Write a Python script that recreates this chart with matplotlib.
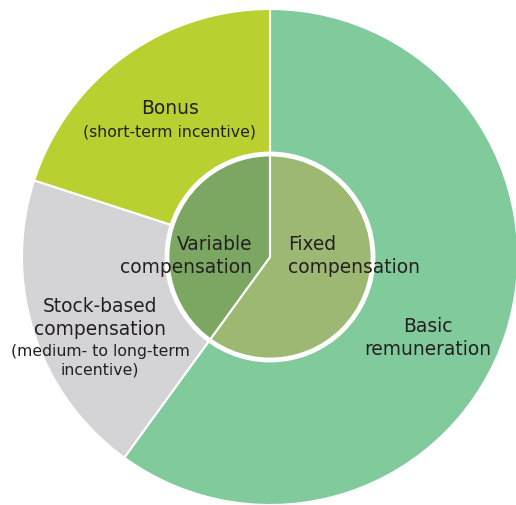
import matplotlib
matplotlib.use("Agg")
import matplotlib.pyplot as plt

# outer ring: breakdown of compensation (clockwise from 12 o'clock)
outer_labels = ["Basic\nremuneration", "Stock-based\ncompensation", "Bonus"]
outer_values = [60, 20, 20]
outer_colors = ["#80ca9c", "#d4d4d6", "#b9d030"]

# inner pie: fixed vs variable
inner_labels = ["Fixed\ncompensation", "Variable\ncompensation"]
inner_values = [60, 40]
inner_colors = ["#9cb873", "#7ba762"]

TXT = "#231f20"
W, H = 516, 506
CX, CY = 270, H - 258
R_OUT, R_IN = 248, 103

fig = plt.figure(figsize=(W / 100, H / 100), dpi=100)
ax = fig.add_axes([0, 0, 1, 1])

ax.pie(outer_values, colors=outer_colors, startangle=90, counterclock=False,
       radius=R_OUT, center=(CX, CY),
       wedgeprops=dict(edgecolor="white", linewidth=1.5))
ax.pie(inner_values, colors=inner_colors, startangle=90, counterclock=False,
       radius=R_IN, center=(CX, CY),
       wedgeprops=dict(edgecolor="white", linewidth=1.5))
# white ring around the inner pie
circ = plt.Circle((CX, CY), R_IN, fill=False, edgecolor="white", linewidth=3.5)
ax.add_patch(circ)

ax.set_xlim(0, W)
ax.set_ylim(0, H)
ax.set_aspect("equal")
ax.axis("off")

big, small = 13.4, 11.3
def lab(x, y, s, size=big, ha="center"):
    ax.text(x, H - y, s, fontsize=size, color=TXT, ha=ha, va="center",
            linespacing=1.3, family="DejaVu Sans")

# outer labels
lab(428, 338, outer_labels[0])
lab(100, 318, outer_labels[1])
lab(100, 361, "(medium- to long-term\nincentive)", small)
lab(170, 108, outer_labels[2])
lab(169, 132, "(short-term incentive)", small)

# inner labels
lab(288, 256, inner_labels[0], ha="left")
lab(252, 256, inner_labels[1], ha="right")

fig.savefig("out.png", dpi=100)
